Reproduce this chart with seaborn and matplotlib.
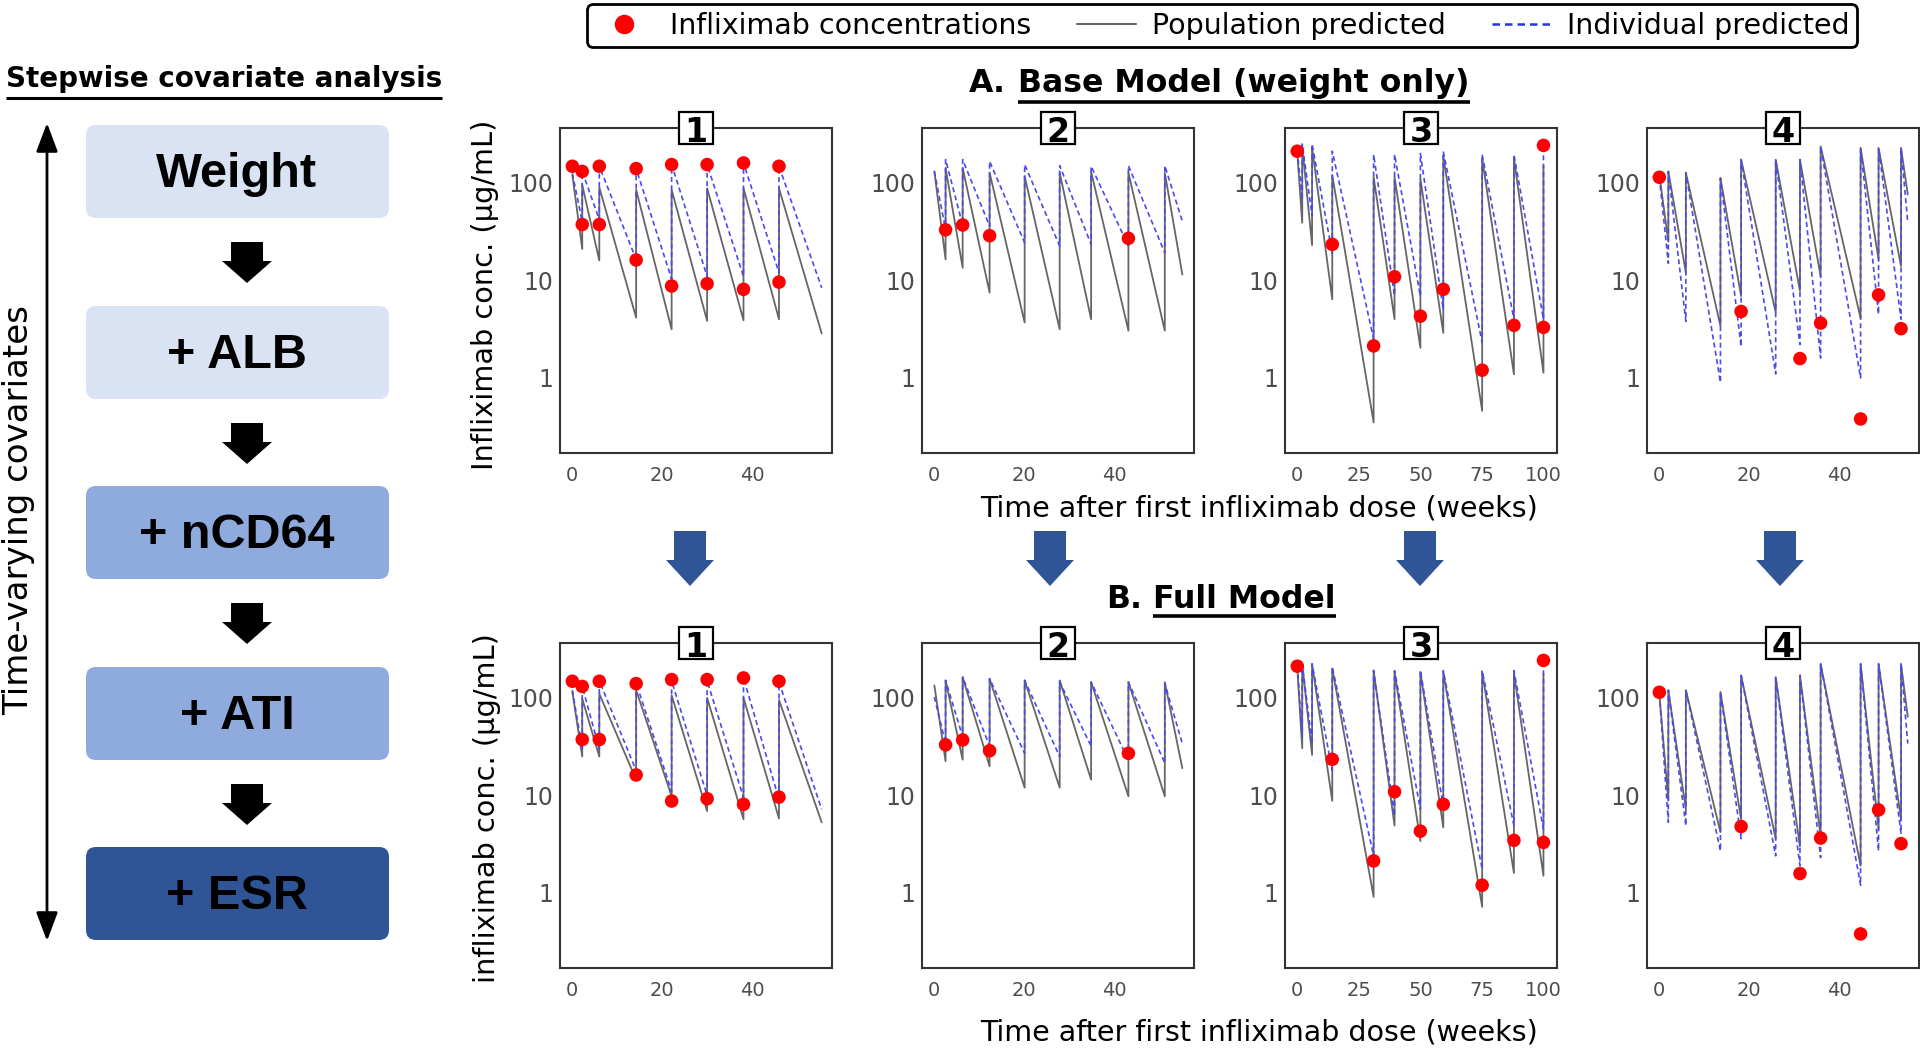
import matplotlib
matplotlib.use("Agg")
import matplotlib.pyplot as plt
import seaborn as sns
import pandas as pd
from matplotlib.patches import FancyBboxPatch, Rectangle, Polygon
from matplotlib.lines import Line2D
from matplotlib.ticker import FixedLocator, NullLocator

# ------------------------------------------------------------------ data
# patient 1
obs_time_1 = [0, 2.2, 2.2, 6, 6, 14.2, 14.2, 22.1, 22.1, 30, 30, 38.1, 38.1, 46, 46]
obs_conc_1 = [148, 37.4, 131, 37.4, 148, 16.2, 140, 8.75, 154, 9.25, 154, 8.1, 160, 9.6, 148]
dose_time_1 = [0, 2.2, 6, 14.2, 22.1, 30, 38.1, 46]
end_time_1 = 55.5
base_pop_peak_1 = [120, 95, 90, 85, 85, 88, 88, 88]
base_pop_trough_1 = [21, 16, 4.15, 3.15, 3.85, 3.9, 4.0]
base_pop_end_1 = 2.86
base_ind_peak_1 = [125, 131, 148, 140, 154, 154, 160, 148]
base_ind_trough_1 = [40, 42, 16.4, 10.3, 11, 11, 12]
base_ind_end_1 = 8.4
full_pop_peak_1 = [115, 98, 110, 120, 106, 100, 100, 95]
full_pop_trough_1 = [25, 25, 14.5, 9.8, 6.9, 5.7, 5.8]
full_pop_end_1 = 5.3
full_ind_peak_1 = [120, 131, 149, 142, 149, 149, 160, 145]
full_ind_trough_1 = [30, 30, 18, 11, 10, 9.5, 9.1]
full_ind_end_1 = 7.2

# patient 2
obs_time_2 = [2.5, 6.3, 12.3, 43.2]
obs_conc_2 = [33, 37, 28.7, 27]
dose_time_2 = [0, 2.5, 6.3, 12.3, 20.1, 27.9, 34.9, 43.2, 51.3]
end_time_2 = 55.2
base_pop_peak_2 = [131, 142, 142, 127, 117, 127, 130, 127, 127]
base_pop_trough_2 = [16.4, 13.5, 7.5, 3.7, 3.15, 4.0, 3.05, 3.05]
base_pop_end_2 = 11.5
base_ind_peak_2 = [131, 173, 173, 166, 154, 150, 148, 150, 150]
base_ind_trough_2 = [33, 37, 36, 24.3, 22.5, 23.4, 22.5, 19.2]
base_ind_end_2 = 40.5
full_pop_peak_2 = [134, 151, 163, 157, 151, 151, 145, 145, 145]
full_pop_trough_2 = [22.4, 23.2, 19.9, 12, 12, 14.5, 9.8, 9.8]
full_pop_end_2 = 19
full_ind_peak_2 = [102, 151, 163, 157, 151, 145, 145, 145, 140]
full_ind_trough_2 = [34, 40, 32, 27, 25, 32, 23, 21.5]
full_ind_end_2 = 34

# patient 3
obs_time_3 = [0, 14.2, 31, 39.5, 50, 59.3, 75.1, 88, 100, 100]
obs_conc_3 = [211, 23.4, 2.13, 10.9, 4.3, 8.1, 1.2, 3.46, 3.3, 242]
dose_time_3 = [0, 2, 6, 14.2, 31, 39.5, 50, 59.3, 75.1, 88, 100]
end_time_3 = None
base_pop_peak_3 = [200, 240, 230, 120, 115, 115, 110, 190, 180, 180, 150]
base_pop_trough_3 = [39, 23, 6.4, 0.35, 4.0, 2.04, 2.9, 0.46, 1.09, 1.13]
base_pop_end_3 = None
base_ind_peak_3 = [211, 250, 250, 211, 195, 195, 200, 210, 195, 195, 242]
base_ind_trough_3 = [67, 46, 19, 2.5, 7.0, 6.9, 5.0, 2.3, 4.0, 4.0]
base_ind_end_3 = None
full_pop_peak_3 = [200, 223, 223, 200, 191, 185, 185, 185, 185, 180, 176]
full_pop_trough_3 = [30.5, 26, 8.8, 0.91, 4.9, 3.4, 4.7, 0.72, 1.6, 1.5]
full_pop_end_3 = None
full_ind_peak_3 = [211, 223, 223, 207, 190, 190, 190, 190, 190, 190, 242]
full_ind_trough_3 = [40, 34, 18, 2.4, 6.2, 7.2, 7.8, 1.75, 4.9, 4.5]
full_ind_end_3 = None

# patient 4
obs_time_4 = [0, 18.2, 31.3, 35.9, 44.8, 48.8, 53.8]
obs_conc_4 = [114, 4.8, 1.58, 3.65, 0.38, 7.1, 3.2]
dose_time_4 = [0, 2, 5.9, 13.6, 18.2, 25.9, 31.3, 35.9, 44.8, 48.8, 53.8]
end_time_4 = 55.3
base_pop_peak_4 = [120, 131, 127, 112, 173, 173, 173, 237, 228, 228, 228]
base_pop_trough_4 = [25, 12, 3.4, 6.9, 4.7, 7.8, 11, 4.1, 16.4, 14]
base_pop_end_4 = 76
base_ind_peak_4 = [114, 131, 127, 112, 173, 173, 173, 237, 228, 228, 228]
base_ind_trough_4 = [15, 3.8, 0.9, 2.1, 1.1, 2.2, 1.6, 1.0, 4.5, 4.0]
base_ind_end_4 = 39
full_pop_peak_4 = [110, 120, 120, 115, 170, 163, 170, 223, 223, 223, 223]
full_pop_trough_4 = [8.9, 7.2, 4.2, 5.7, 3.6, 3.0, 3.8, 1.9, 4.5, 5.7]
full_pop_end_4 = 64
full_ind_peak_4 = [110, 120, 120, 115, 170, 163, 170, 223, 223, 223, 223]
full_ind_trough_4 = [5.3, 4.9, 2.7, 3.6, 2.4, 1.9, 2.3, 1.2, 2.7, 4.1]
full_ind_end_4 = 34

panel_labels = ["1", "2", "3", "4"]
x_ticks_short = [0, 20, 40]
x_ticks_long = [0, 25, 50, 75, 100]
y_ticks = [1, 10, 100]
y_tick_labels = ["1", "10", "100"]
covariate_steps = ["Weight", "+ ALB", "+ nCD64", "+ ATI", "+ ESR"]
legend_labels = ["Infliximab concentrations", "Population predicted", "Individual predicted"]

# ------------------------------------------------------------------ lookups
patients = {
    1: dict(ot=obs_time_1, oc=obs_conc_1, dose=dose_time_1, end=end_time_1,
            base=dict(pop=(base_pop_peak_1, base_pop_trough_1, base_pop_end_1),
                      ind=(base_ind_peak_1, base_ind_trough_1, base_ind_end_1)),
            full=dict(pop=(full_pop_peak_1, full_pop_trough_1, full_pop_end_1),
                      ind=(full_ind_peak_1, full_ind_trough_1, full_ind_end_1))),
    2: dict(ot=obs_time_2, oc=obs_conc_2, dose=dose_time_2, end=end_time_2,
            base=dict(pop=(base_pop_peak_2, base_pop_trough_2, base_pop_end_2),
                      ind=(base_ind_peak_2, base_ind_trough_2, base_ind_end_2)),
            full=dict(pop=(full_pop_peak_2, full_pop_trough_2, full_pop_end_2),
                      ind=(full_ind_peak_2, full_ind_trough_2, full_ind_end_2))),
    3: dict(ot=obs_time_3, oc=obs_conc_3, dose=dose_time_3, end=end_time_3,
            base=dict(pop=(base_pop_peak_3, base_pop_trough_3, base_pop_end_3),
                      ind=(base_ind_peak_3, base_ind_trough_3, base_ind_end_3)),
            full=dict(pop=(full_pop_peak_3, full_pop_trough_3, full_pop_end_3),
                      ind=(full_ind_peak_3, full_ind_trough_3, full_ind_end_3))),
    4: dict(ot=obs_time_4, oc=obs_conc_4, dose=dose_time_4, end=end_time_4,
            base=dict(pop=(base_pop_peak_4, base_pop_trough_4, base_pop_end_4),
                      ind=(base_ind_peak_4, base_ind_trough_4, base_ind_end_4)),
            full=dict(pop=(full_pop_peak_4, full_pop_trough_4, full_pop_end_4),
                      ind=(full_ind_peak_4, full_ind_trough_4, full_ind_end_4))),
}


def profile(doses, peaks, troughs, t_end, c_end):
    t, c = [doses[0]], [peaks[0]]
    for i in range(1, len(doses)):
        t += [doses[i], doses[i]]
        c += [troughs[i - 1], peaks[i]]
    if t_end is not None and c_end is not None:
        t.append(t_end)
        c.append(c_end)
    return pd.DataFrame({"time": t, "conc": c})


# ------------------------------------------------------------------ style
sns.set_style("white")
plt.rcParams["font.family"] = ["DejaVu Sans"]
plt.rcParams["axes.unicode_minus"] = False
plt.rcParams["text.color"] = "black"
plt.rcParams["axes.labelcolor"] = "black"

W, H = 1920, 1050
fig = plt.figure(figsize=(19.2, 10.5), dpi=100)

ov = fig.add_axes([0, 0, 1, 1])
ov.set_xlim(0, W)
ov.set_ylim(H, 0)
ov.axis("off")

POP_COL = "#666666"
IND_COL = "#4A4AEC"
DOT_COL = "#FF0000"

lefts = [560, 922, 1285, 1647]
tops = [128, 643]
PW, PH = 272, 325

for r, model in enumerate(["base", "full"]):
    for c in range(4):
        pid = c + 1
        p = patients[pid]
        ax = fig.add_axes([lefts[c] / W, 1 - (tops[r] + PH) / H, PW / W, PH / H])
        ax.set_yscale("log")
        pk, tr, en = p[model]["pop"]
        sns.lineplot(data=profile(p["dose"], pk, tr, p["end"], en), x="time", y="conc",
                     ax=ax, sort=False, estimator=None, color=POP_COL, lw=1.3)
        pk, tr, en = p[model]["ind"]
        sns.lineplot(data=profile(p["dose"], pk, tr, p["end"], en), x="time", y="conc",
                     ax=ax, sort=False, estimator=None, color=IND_COL, lw=1.2,
                     linestyle=(0, (3, 2)))
        sns.scatterplot(x=p["ot"], y=p["oc"], ax=ax, color=DOT_COL, s=95,
                        edgecolor="none", zorder=5, legend=False)
        ax.set_ylim(0.17, 365)
        if pid == 3:
            ax.set_xlim(-5, 105.5)
            ax.xaxis.set_major_locator(FixedLocator(x_ticks_long))
        else:
            ax.set_xlim(-2.75, 57.8)
            ax.xaxis.set_major_locator(FixedLocator(x_ticks_short))
        ax.yaxis.set_major_locator(FixedLocator(y_ticks))
        ax.set_yticklabels(y_tick_labels)
        ax.yaxis.set_minor_locator(NullLocator())
        ax.set_xlabel("")
        ax.set_ylabel("")
        ax.tick_params(axis="both", which="major", direction="out", length=3.6,
                       width=1.1, color="#333333", labelcolor="#4D4D4D")
        ax.tick_params(axis="y", labelsize=17, pad=1)
        ax.tick_params(axis="x", labelsize=14, pad=6)
        for s in ax.spines.values():
            s.set_color("#333333")
            s.set_linewidth(1.5)
        ax.set_facecolor("white")
        # boxed panel number
        ax.add_patch(Rectangle((0.5 - 17 / PW, 1 - 16 / PH), 34 / PW, 32 / PH,
                               transform=ax.transAxes, fc="white", ec="black",
                               lw=1.6, clip_on=False, zorder=10))
        ax.text(0.5, 1 - 14 / PH, panel_labels[c], transform=ax.transAxes,
                ha="center", va="baseline", fontsize=24, fontweight="bold",
                color="black", zorder=11, clip_on=False)

# ------------------------------------------------------------------ left flowchart
box_tops = [125, 306, 486, 667, 847]
box_cols = ["#DAE3F3", "#DAE3F3", "#8FAADC", "#8FAADC", "#2F5597"]
for lab, yt, col in zip(covariate_steps, box_tops, box_cols):
    ov.add_patch(FancyBboxPatch((86, yt), 303, 93,
                                boxstyle="round,pad=0,rounding_size=10",
                                fc=col, ec="none"))
    ov.text(237, yt + 62, lab, ha="center", va="baseline", fontsize=35,
            fontweight="bold", family=["Liberation Sans", "DejaVu Sans"], color="black")

for yt in [242, 423, 603, 784]:
    ov.add_patch(Polygon([(231, yt), (263, yt), (263, yt + 19), (272, yt + 19),
                          (247, yt + 41), (222, yt + 19), (231, yt + 19)],
                         closed=True, fc="black", ec="none"))

ov.annotate("", xy=(47, 123), xytext=(47, 941),
            arrowprops=dict(arrowstyle="<|-|>,head_length=0.8,head_width=0.3",
                            color="black", lw=2, mutation_scale=22,
                            shrinkA=0, shrinkB=0))
ov.text(19, 510, "Time-varying covariates", rotation=90, ha="center",
        va="center", fontsize=24.5, color="black")

# blue arrows between rows
for xc in [690, 1050, 1420, 1780]:
    ov.add_patch(Polygon([(xc - 16, 531), (xc + 16, 531), (xc + 16, 560),
                          (xc + 24, 560), (xc, 586), (xc - 24, 560), (xc - 16, 560)],
                         closed=True, fc="#2F5597", ec="none"))

# ------------------------------------------------------------------ titles & labels
renderer = fig.canvas.get_renderer()


def underline(txt, y, lw=2.2):
    bb = txt.get_window_extent(renderer)
    inv = ov.transData.inverted()
    x0 = inv.transform((bb.x0, 0))[0]
    x1 = inv.transform((bb.x1, 0))[0]
    ov.plot([x0, x1], [y, y], color="black", lw=lw, solid_capstyle="butt")


t = ov.text(6, 87, "Stepwise covariate analysis", ha="left", va="baseline",
            fontsize=20, fontweight="bold", color="black")
underline(t, 98)

ov.text(969, 92, "A.", ha="left", va="baseline", fontsize=22.7,
        fontweight="bold", color="black")
t = ov.text(1018, 92, "Base Model (weight only)", ha="left", va="baseline",
            fontsize=22.7, fontweight="bold", color="black")
underline(t, 102, 2.6)

ov.text(1106, 608, "B.", ha="left", va="baseline", fontsize=22.7,
        fontweight="bold", color="black")
t = ov.text(1153, 608, "Full Model", ha="left", va="baseline",
            fontsize=22.7, fontweight="bold", color="black")
underline(t, 616, 2.6)

ov.text(1259, 517, "Time after first infliximab dose (weeks)", ha="center",
        va="baseline", fontsize=20.5, color="black")
ov.text(1259, 1041, "Time after first infliximab dose (weeks)", ha="center",
        va="baseline", fontsize=20.5, color="black")
ov.text(485, 295, "Infliximab conc. (µg/mL)", rotation=90, ha="center",
        va="center", fontsize=20.7, color="black")
ov.text(487, 808, "infliximab conc. (µg/mL)", rotation=90, ha="center",
        va="center", fontsize=20.7, color="black")

# ------------------------------------------------------------------ legend
handles = [Line2D([], [], color=DOT_COL, marker="o", ls="none", markersize=13),
           Line2D([], [], color=POP_COL, lw=1.5),
           Line2D([], [], color="#2233EE", lw=1.8, ls=(0, (3, 2)))]
leg = fig.legend(handles, legend_labels, loc="center",
                 bbox_to_anchor=(1222 / W, 1 - 25.5 / H), ncol=3, fontsize=20.5,
                 frameon=True, fancybox=True, edgecolor="black", facecolor="white",
                 framealpha=1, handlelength=2.1, handletextpad=0.55,
                 columnspacing=1.6, borderpad=0.25, labelcolor="black")
leg.get_frame().set_linewidth(2)

fig.savefig("out.png", dpi=100)
